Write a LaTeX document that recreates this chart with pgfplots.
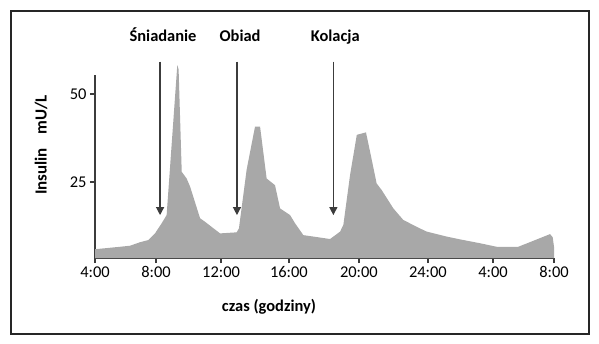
\documentclass[border=0pt]{standalone}
\usepackage{fontspec}
\setmainfont{Carlito}
\usepackage{pgfplots}
\pgfplotsset{compat=1.18}
\usetikzlibrary{arrows.meta}
\definecolor{areagray}{RGB}{168,168,168}
\definecolor{axgray}{RGB}{60,60,60}
\begin{document}
\begin{tikzpicture}
\useasboundingbox (-95bp,-86bp) rectangle (504bp,258bp);
\begin{axis}[
  at={(0,0)}, anchor=south west,
  scale only axis, width=459bp, height=183bp,
  xmin=4, xmax=32, ymin=3.41, ymax=55.4,
  clip=false,
  axis x line*=bottom, axis y line*=left,
  axis line style={axgray, line width=1.3bp},
  tick style={axgray, line width=1.2bp},
  major tick length=5bp,
  tick align=outside,
  xtick={4,7.72,11.69,15.83,20.10,24.31,28.28,32},
  xticklabels={4:00,8:00,12:00,16:00,20:00,24:00,4:00,8:00},
  ytick={25,50},
  tick label style={font=\fontsize{16.5}{19}\selectfont},
  /pgf/number format/assume math mode=true,
]
\addplot[fill=areagray, draw=none] coordinates {
(4,3.41) (4.00,5.9) (5.53,6.6) (6.14,6.9) (6.75,7.9) (7.25,8.5) (7.66,10.4)
(8.07,13.3) (8.37,15.6) (9.02,58.2) (9.10,57.0) (9.29,27.9) (9.59,26.0) (9.80,23.7)
(10.41,14.7) (10.71,13.7) (11.63,10.4) (12.64,10.7) (12.78,11.8) (13.25,28.5)
(13.76,40.7) (14.07,40.7) (14.47,26.0) (14.98,24.1) (15.29,17.5) (15.90,15.6)
(16.20,13.3) (16.71,9.9) (17.32,9.5) (18.34,8.8) (18.95,10.9) (19.15,12.8)
(19.56,27.0) (19.97,38.4) (20.53,39.1) (20.78,33.6) (21.18,24.6) (21.49,22.7)
(22.20,17.5) (22.81,14.2) (23.83,11.8) (24.24,10.9) (25.45,9.5) (26.27,8.7)
(27.49,7.6) (28.50,6.6) (29.82,6.6) (30.74,8.3) (31.76,10.2) (31.92,9.3)
(32,6.6) (32,3.41)
};
\draw[axgray, line width=1.3bp, -{Triangle[width=8bp,length=8bp]}] (axis cs:7.97,59.2) -- (axis cs:7.97,15.6);
\draw[axgray, line width=1.3bp, -{Triangle[width=8bp,length=8bp]}] (axis cs:12.66,59.2) -- (axis cs:12.66,15.6);
\draw[axgray, line width=1.3bp, -{Triangle[width=8bp,length=8bp]}] (axis cs:18.54,59.2) -- (axis cs:18.54,15.6);
\node[anchor=base, font=\bfseries\fontsize{16.5}{19}\selectfont] at (axis cs:8.15,64.8) {Śniadanie};
\node[anchor=base, font=\bfseries\fontsize{16.5}{19}\selectfont] at (axis cs:12.85,64.8) {Obiad};
\node[anchor=base, font=\bfseries\fontsize{16.5}{19}\selectfont] at (axis cs:18.66,64.8) {Kolacja};
\end{axis}
\node[anchor=base, font=\bfseries\fontsize{16.5}{19}\selectfont] at (174bp,-53bp) {czas (godziny)};
\node[rotate=90, font=\bfseries\fontsize{17}{20}\selectfont] at (-54bp,113bp) {Insulin\hspace{0.8em}mU/L};
\draw[line width=2bp, black!85] (-84bp,-76bp) rectangle (494bp,247bp);
\end{tikzpicture}
\end{document}
